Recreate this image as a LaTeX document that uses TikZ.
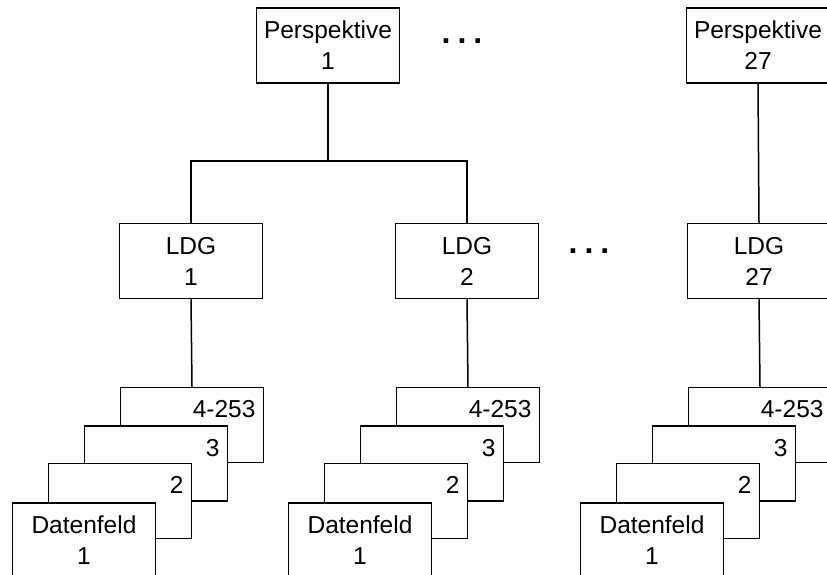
\documentclass[tikz,border=0pt]{standalone}
\usepackage{fontspec}
\setmainfont{Liberation Sans}

\begin{document}
\begin{tikzpicture}[x=1pt,y=-1pt,line width=1.5pt,
  font=\fontsize{24.5}{31}\selectfont,
  kasten/.style={rectangle,draw,fill=white,align=center,minimum width=143pt,minimum height=75pt,inner sep=0pt},
  nummer/.style={anchor=north east,inner sep=0pt,xshift=-8pt,yshift=-13pt},
  punkte/.style={font=\fontsize{32}{32}\selectfont\bfseries}]
\useasboundingbox (0,0) rectangle (827,575);
\clip (0,0) rectangle (827,575);
\node[kasten] (p1) at (328,45.5) {Perspektive\\1};
\node[punkte] (punkte1) at (462,41) {.\hspace{7pt}.\hspace{7pt}.};
\node[kasten] (p27) at (758,45.5) {Perspektive\\27};
\node[kasten] (l1) at (191,261) {LDG\\1};
\node[kasten] (l2) at (467,261) {LDG\\2};
\node[punkte] (punkte2) at (589,251) {.\hspace{7pt}.\hspace{7pt}.};
\node[kasten] (l27) at (759,261) {LDG\\27};
\draw (p1.south) -- ++(0,77) coordinate (gabel);
\draw (l1.north) |- (gabel) -| (l2.north);
\draw (p27.south) -- (l27.north);
\foreach \n/\cx in {1/191,2/467,27/759} {
  \node[kasten,label={[nummer]north east:4-253}] (feld\n-4) at (\cx+1,425) {};
  \node[kasten,label={[nummer]north east:3}] (feld\n-3) at (\cx-35,463.5) {};
  \node[kasten,label={[nummer]north east:2}] (feld\n-2) at (\cx-71,501) {};
  \node[kasten,anchor=north] (feld\n-1) at (\cx-107,502) {Datenfeld\\1};
  \draw (l\n.south) -- (feld\n-4.north);
}
\end{tikzpicture}
\end{document}
